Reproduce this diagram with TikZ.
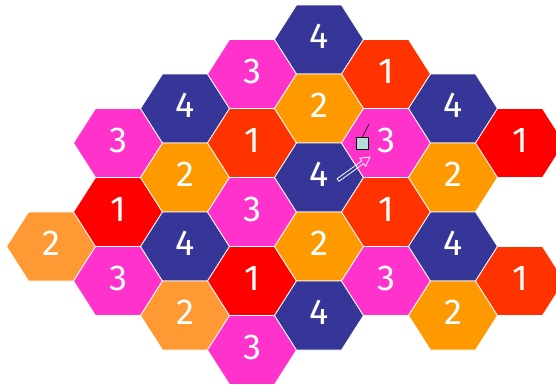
\documentclass[tikz,border=0pt]{standalone}
\usepackage{fontspec}
\setmainfont{Fira Sans}
\usetikzlibrary{calc}
\definecolor{hblue}{RGB}{54,54,152}
\definecolor{hmag}{RGB}{255,51,204}
\definecolor{hredor}{RGB}{255,51,0}
\definecolor{hred}{RGB}{255,0,0}
\definecolor{horange}{RGB}{255,153,0}
\definecolor{hlorange}{RGB}{255,153,51}
\definecolor{hicon}{RGB}{181,221,221}
\tikzset{
  hexcell/.style={draw=white, line width=0.8pt, line join=round},
  digit/.style={text=white, inner sep=0pt, font=\fontsize{36}{36}\selectfont},
  iconbox/.style={draw=black, fill=hicon, line width=0.6pt, minimum size=12pt, inner sep=0pt},
  arrowline/.style={draw=white, line width=0.8pt, line join=miter},
}
\newcommand\hexcell[5]{%
  \pgfmathsetmacro\hx{51+67*#1}%
  \pgfmathsetmacro\hy{39.5+34.5*#2}%
  \begin{scope}[shift={(\hx,\hy)}]
    \path[hexcell, fill=#3] (-44.5,0) -- (-22.5,-34.5) -- (22.5,-34.5) -- (44.5,0) -- (22.5,34.5) -- (-22.5,34.5) -- cycle;
    \node[digit] (#5) at (0,-3) {#4};
  \end{scope}}
\begin{document}
\begin{tikzpicture}[x=1pt,y=-1pt]
\useasboundingbox (0,0) rectangle (556,389);
\clip (0,0) rectangle (556,389);
% column 0
\hexcell{0}{6}{hlorange}{2}{c0a}
% column 1
\hexcell{1}{3}{hmag}{3}{c1a}
\hexcell{1}{5}{hred}{1}{c1b}
\hexcell{1}{7}{hmag}{3}{c1c}
% column 2
\hexcell{2}{2}{hblue}{4}{c2a}
\hexcell{2}{4}{horange}{2}{c2b}
\hexcell{2}{6}{hblue}{4}{c2c}
\hexcell{2}{8}{hlorange}{2}{c2d}
% column 3
\hexcell{3}{1}{hmag}{3}{c3a}
\hexcell{3}{3}{hredor}{1}{c3b}
\hexcell{3}{5}{hmag}{3}{c3c}
\hexcell{3}{7}{hred}{1}{c3d}
\hexcell{3}{9}{hmag}{3}{c3e}
% column 4
\hexcell{4}{0}{hblue}{4}{c4a}
\hexcell{4}{2}{horange}{2}{c4b}
\hexcell{4}{4}{hblue}{4}{c4c}
\hexcell{4}{6}{horange}{2}{c4d}
\hexcell{4}{8}{hblue}{4}{c4e}
% column 5
\hexcell{5}{1}{hredor}{1}{c5a}
\hexcell{5}{3}{hmag}{3}{c5b}
\hexcell{5}{5}{hredor}{1}{c5c}
\hexcell{5}{7}{hmag}{3}{c5d}
% column 6
\hexcell{6}{2}{hblue}{4}{c6a}
\hexcell{6}{4}{horange}{2}{c6b}
\hexcell{6}{6}{hblue}{4}{c6c}
\hexcell{6}{8}{horange}{2}{c6d}
% column 7
\hexcell{7}{3}{hred}{1}{c7a}
\hexcell{7}{7}{hredor}{1}{c7b}
% icon
\node[iconbox] (icon) at (362.5,143) {};
\coordinate (tag) at (369,124);
\draw[line width=0.6pt] (icon.north) -- (tag);
% hollow arrow
\coordinate (at) at (338,180);
\coordinate (ap) at (370,157);
\coordinate (ab) at ($(ap)!9pt!(at)$);
\draw[arrowline]
  ($(at)!1.6pt!90:(ap)$) -- ($(ab)!1.6pt!-90:(at)$) -- ($(ab)!5pt!-90:(at)$) -- (ap)
  -- ($(ab)!5pt!90:(at)$) -- ($(ab)!1.6pt!90:(at)$) -- ($(at)!1.6pt!-90:(ap)$) -- cycle;
\end{tikzpicture}
\end{document}
